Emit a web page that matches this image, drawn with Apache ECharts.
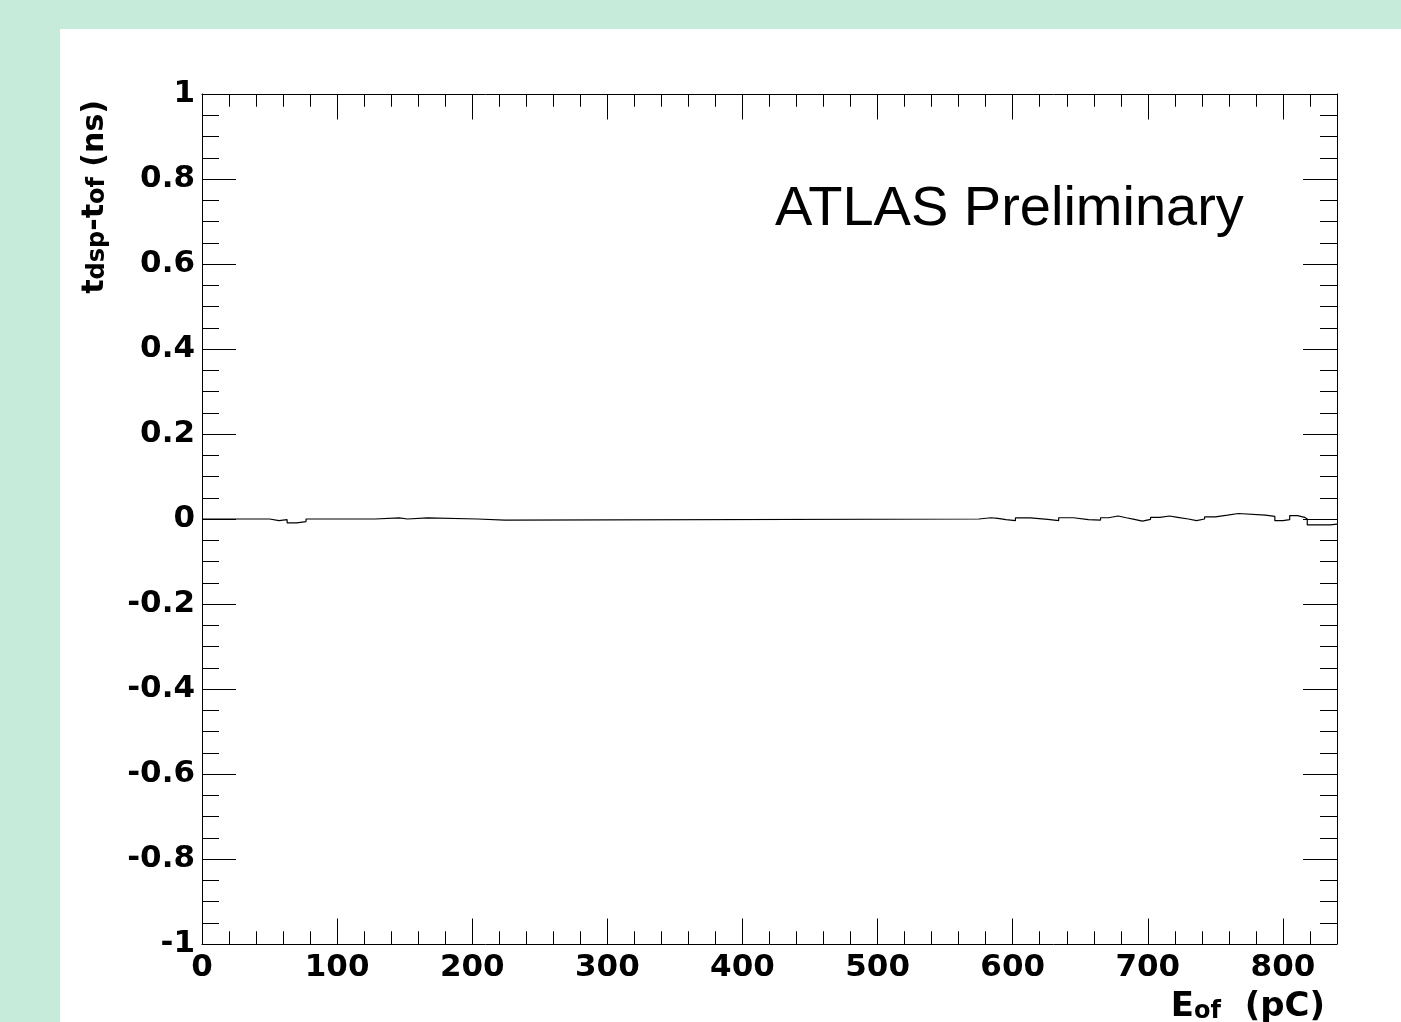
<!DOCTYPE html>
<html>
<head>
<meta charset="utf-8">
<script src="https://cdn.jsdelivr.net/npm/echarts@6/dist/echarts.min.js"></script>
<style>
html,body{margin:0;padding:0;width:1401px;height:1022px;overflow:hidden;background:#C6EBDB;}
#panel{position:absolute;left:60px;top:29px;width:1341px;height:993px;background:#ffffff;}
#chart{position:absolute;left:0;top:0;width:1401px;height:1022px;}
</style>
</head>
<body>
<div id="panel"></div>
<div id="chart"></div>
<script>
// Bin edges (pC) and bin contents (ns) of the histogram
const binEdges = [0, 50, 57, 63, 70, 77, 128, 146, 152, 167, 204, 224, 575, 584, 589, 595, 602, 613, 626, 634, 645, 656, 665, 671, 678, 684, 690, 696, 702, 709, 716, 722, 730, 736, 742, 750, 759, 767, 787, 794, 800, 805, 811, 816, 818, 835, 840];
const binValues = [0, -0.004, -0.0015, -0.009, -0.006, 0, 0.0025, 0, 0.0025, 0, -0.0025, 0, 0.003, 0.0015, -0.0015, -0.004, 0.0025, -0.0008, -0.004, 0.003, -0.0015, -0.0025, 0.003, 0.007, 0.003, -0.0008, -0.005, -0.0008, 0.004, 0.007, 0.004, 0, -0.004, 0, 0.005, 0.009, 0.013, 0.009, 0.006, -0.004, -0.0015, 0.008, 0.004, 0, -0.014, -0.012];
const xMin = 0, xMax = 840, xMajor = 100, xMinor = 20;
const yMin = -1, yMax = 1, yMajor = 0.2;
const xTitle = ['E', 'of', '  (pC)'];
const yTitle = ['t', 'dsp', '-t', 'of', ' (ns)'];
const watermark = 'ATLAS Preliminary';

// histogram outline: each bin drawn as a flat segment, joined by vertical steps
const stepData = [];
binValues.forEach((v, i) => {
  stepData.push([binEdges[i], v]);
  stepData.push([binEdges[i + 1], v]);
});

const FONT = "'DejaVu Sans', Arial, sans-serif";
const lineStyle = {color: '#000', width: 1};
const labelStyle = {color: '#000', fontFamily: FONT, fontWeight: 'bold', fontSize: 31};

function xAxisDef(pos, interval, tickLen, showLabel, showLine) {
  return {
    type: 'value', position: pos, min: xMin, max: xMax, interval: interval,
    axisLine: {show: showLine, onZero: false, lineStyle: lineStyle},
    axisTick: {show: true, inside: true, length: tickLen, lineStyle: lineStyle},
    axisLabel: Object.assign({show: showLabel, margin: 8, showMaxLabel: false, showMinLabel: true}, labelStyle),
    splitLine: {show: false}
  };
}
function yAxisDef(pos, showLabel) {
  return {
    type: 'value', position: pos, min: yMin, max: yMax, interval: yMajor,
    axisLine: {show: true, onZero: false, lineStyle: lineStyle},
    axisTick: {show: true, inside: true, length: 34, lineStyle: lineStyle},
    minorTick: {show: true, splitNumber: 4, length: 17, lineStyle: lineStyle},
    axisLabel: Object.assign({show: showLabel, margin: 7, showMinLabel: true, showMaxLabel: true,
      formatter: v => String(Math.round(v * 10) / 10)}, labelStyle),
    splitLine: {show: false}
  };
}

const richStyles = {
  m: {fontFamily: FONT, fontWeight: 'bold', fontSize: 30, lineHeight: 40, verticalAlign: 'bottom', fill: '#000'},
  s: {fontFamily: FONT, fontWeight: 'bold', fontSize: 24, lineHeight: 20, verticalAlign: 'bottom', fill: '#000'}
};
const richStylesX = {
  m: {fontFamily: FONT, fontWeight: 'bold', fontSize: 34, lineHeight: 40, verticalAlign: 'bottom', fill: '#000'},
  s: {fontFamily: FONT, fontWeight: 'bold', fontSize: 24, lineHeight: 20, verticalAlign: 'bottom', fill: '#000'}
};

const chart = echarts.init(document.getElementById('chart'), null, {renderer: 'canvas'});
chart.setOption({
  backgroundColor: 'transparent',
  animation: false,
  grid: {left: 202, top: 94, width: 1135, height: 850, containLabel: false},
  xAxis: [
    xAxisDef('bottom', xMajor, 25.5, true, true),
    xAxisDef('bottom', xMinor, 12.75, false, false),
    xAxisDef('top', xMajor, 25.5, false, true),
    xAxisDef('top', xMinor, 12.75, false, false)
  ],
  yAxis: [yAxisDef('left', true), yAxisDef('right', false)],
  series: [{
    type: 'line', xAxisIndex: 0, yAxisIndex: 0, data: stepData,
    showSymbol: false, symbol: 'none', lineStyle: {color: '#000', width: 1.2}, z: 5
  }],
  graphic: [
    {
      type: 'text', x: 775, y: 210,
      style: {text: watermark, fontFamily: "'Liberation Sans', Arial, sans-serif", fontSize: 56, fill: '#000', align: 'left', verticalAlign: 'middle'}
    },
    {
      type: 'text', x: 90, y: 100, rotation: Math.PI / 2,
      style: {
        text: `{m|${yTitle[0]}}{s|${yTitle[1]}}{m|${yTitle[2]}}{s|${yTitle[3]}}{m|${yTitle[4]}}`,
        align: 'right', verticalAlign: 'middle', fill: '#000', rich: richStyles
      }
    },
    {
      type: 'text', x: 1325, y: 984,
      style: {
        text: `{m|${xTitle[0]}}{s|${xTitle[1]}}{m|${xTitle[2]}}`,
        align: 'right', verticalAlign: 'top', fill: '#000', rich: richStylesX
      }
    }
  ]
});
</script>
</body>
</html>
